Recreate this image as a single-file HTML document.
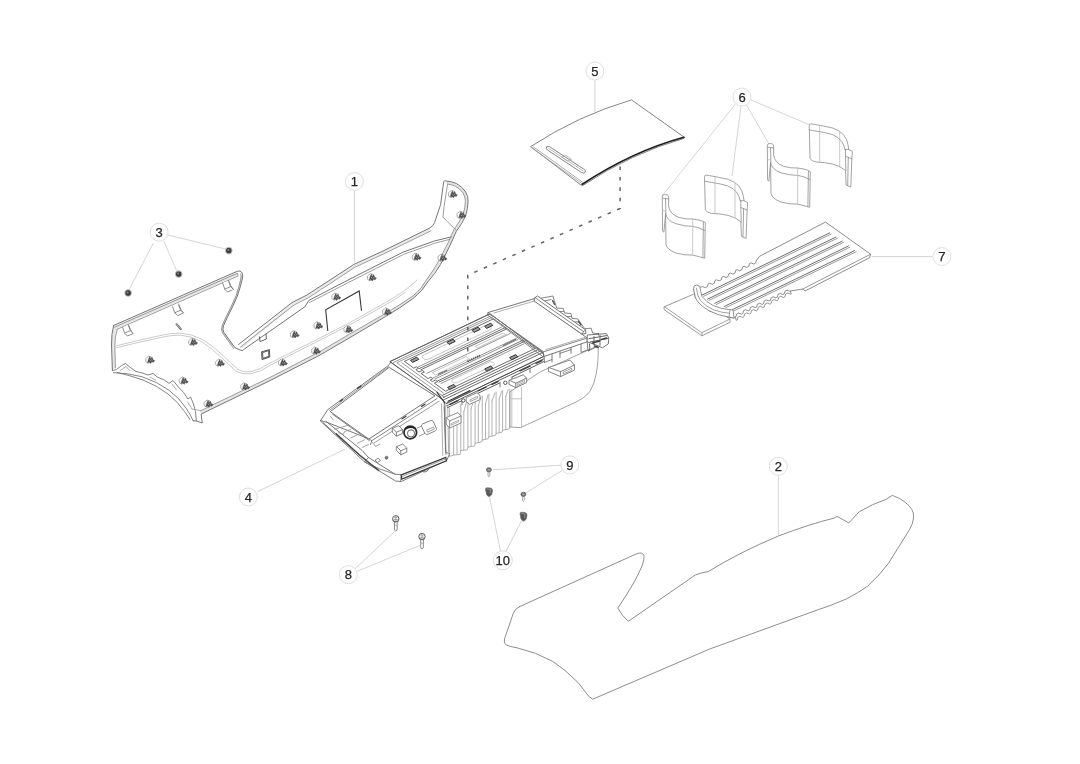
<!DOCTYPE html>
<html><head><meta charset="utf-8"><title>Parts diagram</title>
<style>
html,body{margin:0;padding:0;background:#fff;}
body{width:1080px;height:764px;overflow:hidden;font-family:"Liberation Sans",sans-serif;}
svg{display:block}
.m{fill:none;stroke:#6a6a6a;stroke-width:.9;stroke-linejoin:round;stroke-linecap:round}
.l{fill:none;stroke:#a8a8a8;stroke-width:.8;stroke-linejoin:round;stroke-linecap:round}
.vl{fill:none;stroke:#cfcfcf;stroke-width:.8;stroke-linecap:round}
.d{fill:none;stroke:#333;stroke-width:1;stroke-linejoin:round;stroke-linecap:round}
.w{fill:#fff}
.ld{fill:none;stroke:#cdcdcd;stroke-width:.85}
.cc{fill:#fff;stroke:#dedede;stroke-width:1}
.ct{font-family:"Liberation Sans",sans-serif;font-size:13px;fill:#262626;stroke:#262626;stroke-width:.25;text-anchor:middle}
</style></head><body>
<svg width="1080" height="764" viewBox="0 0 1080 764">
<rect width="1080" height="764" fill="#fff"/>
<filter id="soft" x="0" y="0" width="1080" height="764" filterUnits="userSpaceOnUse"><feGaussianBlur stdDeviation="0.45"/></filter>
<g id="all" filter="url(#soft)">
<rect width="1080" height="764" fill="#fff"/>
<defs>
<g id="clip"><path d="M-4.6,-1.6 L-1.6,-4 L1.4,-3 L1.6,1 L-2,3.2 L-4.4,1.8 Z" fill="#fff" stroke="#8e8e8e" stroke-width=".7"/><path d="M-2,-0.6 L-0.6,-3.6 L0.4,-1.2 L1.8,-2.8 L2.8,-0.2 L4.4,0.4 L3.2,2.2 L1.4,1.6 L0.4,3.4 L-1,2 L-2.8,2.6 Z" fill="#4a4a4a" stroke="#5e5e5e" stroke-width=".5" stroke-linejoin="round"/><path d="M-0.8,-0.6 L0.4,1.2 M1,-0.8 L2,0.8" stroke="#ddd" stroke-width=".5" fill="none"/></g>
</defs>

<!-- LEADERS -->
<g id="leaders" class="ld">
<path d="M354.4,190 L354.4,262.5"/>
<path d="M778.3,475.5 L778.3,535.5"/>
<path d="M167.6,234.9 L226.4,249.3 M163.6,240.7 L176.7,270.8 M153.2,243.4 L129,289.8"/>
<path d="M257.5,491.7 L345,449.2"/>
<path d="M594.9,80 L594.9,111.8"/>
<path d="M735.5,104 L662,196 M741,106 L732,176 M746.5,105 L769.5,145 M751,100 L810,125"/>
<path d="M871.6,256.6 L932.5,256.6"/>
<path d="M355.3,568.6 L394.8,531.3 M357.4,571.2 L420,545.4"/>
<path d="M561,465.2 L492.6,469.8 M562.3,470.4 L525.9,492.8"/>
<path d="M500.5,551.3 L489.6,497.2 M505.9,551.6 L521.5,520.9"/>
</g>


<!-- PART 1 -->
<g id="p1">
<!-- underlay bands -->
<path d="M200.6,412.5 L270.0,379.0 L320.0,353.2 L350.0,335.6 L385.6,314.9 L412.8,297.4 L421.1,289.5 L427.0,281.1 L439.6,262.9 L449.0,244.2 L455.1,230.4 L464.4,215.1 L466.8,201.4 L464.4,192.5 L455.6,184.7 L446.1,182.4" fill="none" stroke="#e4e4e4" stroke-width="2.6" stroke-linejoin="round"/>
<path d="M115.6,327.4 L237.4,273.8 M115.6,327.4 Q113.1,335 113.2,345.5 L113.9,369" fill="none" stroke="#e6e6e6" stroke-width="3.2" stroke-linejoin="round"/>
<path d="M241.6,275 Q240.2,285 236.6,295.8 Q232.4,306.2 226.8,316.9 L222.8,325.8 Q221.6,329.8 223,332.5 L233,346.2" fill="none" stroke="#d8d8d8" stroke-width="1.6"/>
<path d="M241,348 L293,303.8 L307.6,296.4 L354.5,265.8 L382.5,252.8 L430.4,229.4" fill="none" stroke="#ebebeb" stroke-width="2.4"/>
<!-- outer outline -->
<path style="stroke:#757575;stroke-width:1" class="m" d="M113.6,325.5 L236.5,271.6 Q240.6,270 242.2,273 Q243.2,275.6 242.3,279 Q240.5,287 237.3,296.1 Q233,306.5 227.4,317.2 L223.4,326 Q222.4,329.6 223.7,332.2 L233.6,345.8 L234.9,347.7 L242.3,350.8 L243.5,349.6 L304.8,306.8 L309,300.3 L354,277 L402.9,252.2 L434.3,241 L451.6,236.8
 M238.5,344.5 L292,302.6 L307,295 L354.1,264.3 L382,251.5 L429.6,228.1 Q433.5,226 434.6,222.5 L440.6,204.6 L443.7,181.8 L444.5,180.8 Q452,181.5 456.3,183.4 Q462.5,187 465.7,192 Q468.3,196.5 468.1,201.4 Q468,208 465.7,215.6 Q462,224 456.3,231.3 L450,245.4 L440.6,264.3 Q435,274 428,281.6 L421.7,290.4 Q417.5,294.6 412.8,298.7 Q400,308 385.6,316.5 L350,337.5 L320,355 L270,380.6 L201.1,414.1 L202.3,423 L196.5,421 L193.2,420.8
 M113.6,325.5 Q111.3,334 111.5,345 L112.4,370.6"/>
<!-- inner parallel lines -->
<path style="stroke:#858585" class="l" d="M114.3,327.2 L237.2,273.4 M117.2,329.2 L238.2,275.9 L237.4,273.6 M117.2,329.2 Q114.8,336 114.9,346 L115.4,367.5
 M240.8,274 Q241.6,276 240.9,279 Q239,287 236,295.6 Q231.8,306 226.2,316.6 L222.1,325.6 Q220.9,329.8 222.4,332.8 L232.4,346.6 L233.8,348.6
 M200.2,410.9 L270,377.4 L320,351.5 L350,333.8 L385.6,313.4 Q400,305 412.8,296.1 Q417,292.5 420.5,288.6 L426,280.5 Q433,271 438.5,261.5 L448,243 L454,229.5 Q459.5,222 463,214.5 Q465.3,207.5 465.4,201.4 Q465.4,197 463.2,193 Q460,188.5 455,186 Q451,184.4 447.6,184.1
 M447.6,184.1 L444.2,205.5 L442.9,217.1 L456.3,230.5
 M240.5,347 L294,305 L308.3,297.8 L355,267.2 L383,254.2 L431,230.8
 M309.5,302.5 L355,279.2 L403.5,254.4 L434.8,243.2 L450,239.3"/>
<!-- faint contour double line -->
<path style="stroke:#bdbdbd" class="vl" d="M116.3,345.8 Q140,339.8 162.9,335 Q173,333 180.2,333.1 Q192,333.8 202.7,339.6 Q214,346.5 225.7,358 L237.5,369.2 Q243,372.6 250,371.8 Q260,370 270,363 L320,338 L350,322.5 L385.6,302.5 Q396,296.5 404.5,290.5 Q411,285.5 417,280
 M116.3,347.8 Q140,341.8 162.9,337 Q173,335 180,335.1 Q191,335.8 201.5,341.6 Q212.5,348.5 224,360 L236,371.2 Q242.5,374.8 250.5,373.8 Q261,372 271,364.8 L321,339.6 L351,324.2 L386.6,304.2 Q397,298.2 405.5,292.2"/>
<!-- bottom-left arc structure -->
<path style="stroke:#777" class="m" d="M112.4,370.6 L116.5,369.5 Q122,364.5 125.5,363.5 L131,368 L136,371.5 Q142,372.6 148,375 L153,373.5 L158,377.5 Q164,379 169.1,383.3 L173,380.5 L178,386.5 Q184,392 188,399.1 L190.5,397 L193.5,404 Q196,411 196.4,420.8
 M113.5,372.6 Q128,373 141.9,376.7 Q157,381.5 169.1,390.3 Q180,398.5 186,408.1 Q190.5,414.5 193.2,420.8
 M117,372.4 Q130,375.5 143,380 Q157,385.5 168,394 Q178,402 184.5,411.5 Q188,416.5 190,419.6"/>
<path style="stroke:#999" class="l" d="M120,370.5 L126,366.5 L130,370.8 M150,377 L156,380.2 M172,384 L176.5,390 M187.5,402 L192,409 M192,409 L200.6,410.6"/>
<!-- tabs on flap top -->
<g style="stroke:#808080;fill:#fff" class="m">
<path d="M122.6,327.4 L124.6,333.2 L127.4,336 L133,333.6 L130.4,329.6 L128.4,324.8"/><path d="M124.6,333.2 L130.4,330.6 L133,333.6 M130.4,330.6 L128.6,326"/>
<path d="M172.6,306.6 L174.8,312.8 L177.6,315.6 L183.4,313 L180.6,309 L178.6,304"/><path d="M174.8,312.8 L180.6,310.2 L183.4,313 M180.6,310.2 L178.8,305.2"/>
<path d="M222.6,283 L224.8,289.2 L227.6,292 L233.4,289.4 L230.6,285.4 L228.6,280.4"/><path d="M224.8,289.2 L230.6,286.6 L233.4,289.4 M230.6,286.6 L228.8,281.6"/>
</g>
<!-- pin -->
<path d="M176.5,324.2 L180.8,329.2" stroke="#666" stroke-width="2" stroke-linecap="round" fill="none"/>
<path d="M176.5,324.2 L180.8,329.2" stroke="#ccc" stroke-width=".7" stroke-linecap="round" fill="none"/>
<!-- small rects -->
<path style="stroke:#555" class="m" d="M259.5,336.8 L260,341.6 L266.4,339 L266,334.2"/>
<path style="stroke:#444" class="m" d="M261.6,352.2 L262,359.6 L269.8,357 L269.4,350 Z M262.6,353 L262.9,358.4 L268.9,356.3 L268.6,351 Z"/>
<!-- big open rectangle -->
<path d="M327.8,331 L325.7,309.7 L359.2,290.9 L361.5,310.8" fill="none" stroke="#3a3a3a" stroke-width="1.1" stroke-linejoin="miter"/>
<!-- clips -->
<g id="p1clips">
<use href="#clip" x="453" y="194.4"/>
<use href="#clip" x="461.6" y="215.3"/>
<use href="#clip" x="416.8" y="257.2"/>
<use href="#clip" x="442.6" y="258"/>
<use href="#clip" x="372" y="277.6"/>
<use href="#clip" x="336.4" y="297"/>
<use href="#clip" x="387.2" y="312"/>
<use href="#clip" x="318.5" y="325.8"/>
<use href="#clip" x="348.5" y="329.6"/>
<use href="#clip" x="294.9" y="334.6"/>
<use href="#clip" x="316.2" y="351"/>
<use href="#clip" x="283" y="362.8"/>
<use href="#clip" x="220.2" y="363.2"/>
<use href="#clip" x="245.3" y="386.8"/>
<use href="#clip" x="208.6" y="404"/>
<use href="#clip" x="193.2" y="342.3"/>
<use href="#clip" x="150.3" y="360.1"/>
<use href="#clip" x="183.8" y="381"/>
</g>
</g>


<!-- PART 4 -->
<g id="p4">
<!-- body side (rear) -->
<path style="stroke:#8a8a8a;fill:#fff" class="l" d="M598.2,346 Q598.5,362 596.4,373 Q594.5,384 590,391.3 Q584,399 571.6,404.1 L527.6,424.3 L520.3,427.6 L509.8,427 L509.8,392 L540,372 Z"/>
<path style="stroke:#b0b0b0" class="l" d="M521.6,387 L521.6,427.6 M511.8,398.8 L521.6,398.8 M511.8,389.6 L511.8,427"/>
<!-- ribs -->
<g style="stroke:#a0a0a0" class="l">
<path d="M445.7,405 L445.7,453.7 L449.6,456.4 L453.6,455.1 L460.1,454.4 L460.8,450.5 L467.3,449.8 L467.9,447.2 L474.5,445.9 L475.1,443.3 L481.7,441.9 L482.3,440 L488.2,438.7 L488.9,436.7 L495.4,435.4 L496.1,433.5 L502,432.2 L502.6,430.2 L509.2,428.9 L509.8,426.9"/>
<path d="M449.6,408 L449.6,456 M453.6,420 L453.6,455 M457,420 L457,454.6
 M460.8,404 L460.8,450.5 M463.8,412 L463.8,450 M467.9,401 L467.9,447.2 M471,409 L471,446.5 M475.1,398.5 L475.1,443.3 M478.3,406 L478.3,442.6 M482.3,396 L482.3,440 M485.5,403.5 L485.5,439.3 M488.9,394 L488.9,436.7 M492,401 L492,436 M496.1,392 L496.1,433.5 M499.2,399 L499.2,432.8 M502.6,390.5 L502.6,430.2 M505.8,396.5 L505.8,429.6 M509.8,389 L509.8,426.9"/>
<path d="M463.8,412 L466.5,402 M471,409 L473.8,399.5 M478.3,406 L481,397 M485.5,403.5 L488,395 M492,401 L494.8,393 M499.2,399 L501.6,391.5 M505.8,396.5 L508.2,389.5"/>
</g>
<!-- front face -->
<path style="stroke:#6e6e6e;fill:#fff" class="m" d="M320.5,420.6 L327.8,409.6 L388.3,365.6 L391,362 L437,392 L444.2,402 L445.6,452.5 L449.7,453.5 L446.9,460 L401.1,481.6 L395.6,481 L364.5,461.8 Z"/>
<path style="stroke:#777" class="m" d="M444.2,406.8 L446,454.5 M401.1,474.6 L400.6,481.6 M364.5,461.8 Q380,470 395,474.2 L401.1,474.6"/>
<path style="stroke:#999" class="l" d="M447.8,406 L448.6,452 M441.5,404 L442.8,455.5"/>
<!-- dark lower rect -->
<path d="M401.3,474.8 L445.8,457.4 L446.4,460.8 L401.8,479.2 Z" fill="#fff" stroke="#3a3a3a" stroke-width="1.25"/>
<path d="M402.5,476.2 L445,459.2" style="stroke:#888" class="l"/>
<path d="M422,471.2 Q425,473.6 428.5,469.8" style="stroke:#555" class="m"/>
<!-- front slope lines -->
<path style="stroke:#6a6a6a" class="m" d="M320.5,420.6 L327.5,422.5 L369.1,438.9 M326.2,421.5 L362.1,450.4 L368.5,457.5 L395,474.2 M364.5,461.8 L368.5,457.5 M323,422.6 L365.2,459.6"/>
<path style="stroke:#4a4a4a;stroke-width:1.5" class="d" d="M336.2,433.9 L360,455.5 L378.6,470.4"/>
<path style="stroke:#8a8a8a" class="l" d="M334.4,429.2 L349.2,425 M338.6,432.7 L343.3,434.5 L344.5,431.6 L350.5,429.6 M350.9,438 L358,434.5 M357.4,443.3 L364.5,439.8 M362.5,447.4 L368.4,444.4 M330.5,416.5 L333,419.5 M372,442 L375.5,446.5 L380,444"/>
<!-- lid -->
<path style="stroke:#666;fill:#fff" class="m" d="M330.6,411.4 L389.2,367.4 L435,395.8 L369.1,438.9 Z"/>
<path style="stroke:#777" class="m" d="M371.8,440.7 L436.9,398.6 M332.5,414.2 L369.5,440.8 M369.1,438.9 L371.8,440.7 L370.5,444.5"/>
<path style="stroke:#888" class="l" d="M374,443 L439,401.2 M329.2,410.6 L388.8,366.5"/>
<path style="stroke:#444;stroke-width:1.3" class="d" d="M357.5,388.4 L361,385.9 M340,401.3 L342.5,399.5 M402,418.8 L406,416.2 M421.5,406.4 L425,404.2"/>
<!-- knob + boxes on front -->
<circle cx="410.3" cy="432.5" r="6.3" fill="#fff" stroke="#2e2e2e" stroke-width="1.8"/>
<circle cx="411" cy="433.4" r="3.6" fill="#fff" stroke="#555" stroke-width=".9"/>
<path d="M405,429 Q410,425.5 415.5,428.5" fill="none" stroke="#222" stroke-width="1.6"/>
<path style="stroke:#777;fill:#fff" class="m" d="M421.5,426.2 Q421,424.6 422.8,423.8 L430.5,420.6 Q432.4,420 433.4,421.6 L436.4,428.4 Q436.9,430 435.4,430.8 L427.6,434.4 Q425.8,435 424.9,433.4 Z"/>
<path style="stroke:#888" class="l" d="M427,430 L433.5,427 L434.3,429 L427.9,432 Z M421.5,426.2 L417,428.2 M424.9,433.4 L419.5,436"/>
<path style="stroke:#777;fill:#fff" class="m" d="M392.6,428.2 L398.8,425.6 L402.4,429.6 L402.4,433.6 L396.4,436.2 L392.6,432.4 Z M396.4,436.2 L396.4,432.2 L402.4,429.6 M396.4,432.2 L392.6,428.2"/>
<path style="stroke:#777;fill:#fff" class="m" d="M396.6,446.6 L402.6,444 L406.8,448.2 L406.8,452 L400.8,454.8 L396.6,450.6 Z M400.8,454.8 L400.8,450.8 L406.8,448.2 M400.8,450.8 L396.6,446.6"/>
<circle cx="386.5" cy="457.7" r="1.5" fill="#777" stroke="#555" stroke-width=".6"/>
<path style="stroke:#777" class="m" d="M375.5,459.8 L378.6,458.2 L380.4,460.6 L377.4,462.4 Z"/>
<!-- clip box on rib side -->
<path style="stroke:#808080;fill:#fff" class="m" d="M446.5,417.5 L458,412.5 L461,416 L461,423 L449.6,428 L446.5,424.5 Z M449.6,428 L449.6,421 L461,416 M449.6,421 L446.5,417.5"/>
<path style="stroke:#999" class="l" d="M451.5,423.4 L458.6,420.2 L458.6,421.8 L451.5,425 Z"/>
<!-- TRAY -->
<g id="tray">
<path style="stroke:#666;fill:#fff" class="m" d="M390.1,361.5 L490,313.8 L543.1,352.3 L543.6,356.5 L446,403.6 L443.2,400 Z"/>
<g transform="matrix(0.999 -0.477 0.531 0.385 390.1 361.5)" fill="none" stroke-linejoin="round">
<path vector-effect="non-scaling-stroke" stroke="#5c5c5c" stroke-width=".9" d="M0,0 L100,0 L100,100 L0,100 Z"/>
<path vector-effect="non-scaling-stroke" stroke="#808080" stroke-width=".8" d="M1,4 L100,4 M3,7 L100,7 M3,7 L3,97 M6,10 L6,90"/>
<path vector-effect="non-scaling-stroke" stroke="#5e5e5e" stroke-width=".9" d="M8.75,10.5 L98,10.5 M8.75,10.5 L8.75,28 L11.5,28 L11.5,32 L8.75,32 L8.75,38 L12,38 L12,42 L8.75,42 L8.75,55 L11.5,55 L11.5,59 L8.75,59 L8.75,63 L12,63 L12,67 L8.75,67 L8.75,88 M98,10.5 L98,88
 M11.5,33 L98,33 M11.5,36 L98,36 M12,66 L98,66 M12,69 L98,69 M8.75,88 L100,88 M3,92 L100,92 M2,96 L100,96"/>
<path vector-effect="non-scaling-stroke" stroke="#7c7c7c" stroke-width=".8" d="M12,46 L96,46 M12,58 L96,58 M12,61 L96,61 M12,29.5 L96,29.5 M12,72.5 L96,72.5"/>
<path vector-effect="non-scaling-stroke" stroke="#b8b8b8" stroke-width=".8" d="M24,15 L88,15 Q91,20 88,25 L24,25 Q21,20 24,15 Z M22,75 L60,75 Q63,79 60,83 L22,83 Q19,79 22,75 Z M16,49 L50,49 L50,55 L16,55 Z M64,40 L92,40 L92,44 L64,44 Z"/>
</g>
<!-- tray clips -->
<g fill="#9a9a9a" stroke="#333" stroke-width="1" stroke-linejoin="round">
<path d="M410.6,360.2 L416.8,357.2 L418.8,359.4 L412.6,362.4 Z"/>
<path d="M447,342.2 L453.2,339.2 L455.2,341.4 L449,344.4 Z"/>
<path d="M472,330.2 L478.2,327.2 L480.2,329.4 L474,332.4 Z"/>
<path d="M484.6,326.2 L490.8,323.2 L492.8,325.4 L486.6,328.4 Z"/>
<path d="M447.6,387.4 L453.8,384.4 L455.8,386.6 L449.6,389.6 Z"/>
<path d="M484.6,369 L490.8,366 L492.8,368.2 L486.6,371.2 Z"/>
<path d="M509.6,357.6 L515.8,354.6 L517.8,356.8 L511.6,359.8 Z"/>
</g>
<path d="M467.5,361.4 L480.5,355.2" stroke="#444" stroke-width="1.8" stroke-dasharray="1.2,.9" fill="none"/>
<path d="M503,345.6 L516,339.4 M438,374.4 L447,370.2" stroke="#777" stroke-width="1.2" fill="none"/>
<!-- tray front-right frame under-edge -->
<path style="stroke:#4a4a4a" class="m" d="M446,403.6 L543.6,356.5 M446.8,405.6 L543.8,358.8 M447.5,407.6 L462,400.6 M474,395.2 L500,382.8 M512,377 L543.8,361.6"/>
<path style="stroke:#3a3a3a;stroke-width:1.3" class="d" d="M450,404.4 L458,400.6 M478,391 L486,387.2 M492,384.4 L498,381.6 M520,371 L530,366.2 M536,363.4 L542,360.6"/>
<path style="stroke:#666" class="m" d="M462,400.6 L462,404.5 M474,395.2 L474,399 M500,382.8 L500,387 M512,377 L512,381 M530,368.4 L530,372.5"/>
<path style="stroke:#3a3a3a;stroke-width:1.2" class="d" d="M448,401.2 L470,390.6 M437,392.4 L444.5,402.5"/>
</g>
<!-- side clips under tray -->
<g style="stroke:#777;fill:#fff" class="m">
<path d="M466.5,397.5 L477,392.6 L480,395.4 L480,399.6 L469.6,404.4 L466.5,401.6 Z"/><path d="M470.5,399.6 L477.5,396.4 L477.5,398.2 L470.5,401.4 Z" stroke="#999"/>
<path d="M509.3,380.3 L523.1,374.8 L526.7,378.1 L526.7,382.6 L515.7,387.6 L509.3,384.5 Z M515.7,387.6 L515.7,383.2 L526.7,378.1 M515.7,383.2 L509.3,380.3"/><path d="M517.6,383.6 L524.6,380.4 L524.6,382.2 L517.6,385.4 Z" stroke="#999"/>
<path d="M548.7,367.5 L569.8,360 L574.4,365 L574.4,370.2 L560.6,376.6 L548.7,371.5 Z M560.6,376.6 L560.6,371.6 L574.4,365 M560.6,371.6 L548.7,367.5"/><path d="M563.6,371.8 L571.6,368.2 L571.6,370.2 L563.6,373.8 Z" stroke="#999"/>
</g>
<circle cx="463.3" cy="400.5" r="1.7" fill="#fff" stroke="#444" stroke-width=".9"/>
<circle cx="505.3" cy="382.8" r="1.7" fill="#fff" stroke="#444" stroke-width=".9"/>
<!-- under rear-lid details -->
<path style="stroke:#707070" class="m" d="M544.1,356.5 L544.5,362.5 M544.5,362.5 L552,359.5 M552,354 L552,362 M560,350.8 L560,357.5 M571,347.2 L571,353.4 M581,343.6 L581,352.4 L587.5,350 M587.2,341.8 L588,351 L597.3,346.5 M560,353.4 L571,349.6"/>
<!-- REAR LID -->
<path style="stroke:#666;fill:#fff" class="m" d="M488.2,312.5 L534.1,298.7 L587.2,338.1 L587.2,341.8 L544.1,356.5 L543.2,351.9 Z"/>
<path style="stroke:#777" class="m" d="M543.2,351.9 L587.2,338.1 M490.6,314 L543.6,354.2 M488.2,312.5 L487,314.6 L541.8,355.8"/>
<path style="stroke:#999" class="l" d="M494,313 L535,300.8 M546,349.5 L585,337.4"/>
<!-- teeth behind bar -->
<path style="stroke:#777" class="m" d="M541.1,298.2 L552.9,296 L554.3,300.7 L556.8,308.1 L563.2,308.4 L564.7,313 L571,313.5 L572,318.4 L577.9,318.9 L580.8,323.3 L584.8,328.7 L591.2,328.2 L592.6,333.1 L598.5,333.6 M544,301 L551,299.6 M558,311.5 L563.6,311.4 M566.5,316.4 L571.4,316.6 M574,321.8 L579,322"/>
<path style="stroke:#555;stroke-width:1.4" class="d" d="M552.6,300.6 L554.6,304.4 M578.4,321.2 L581,325"/>
<!-- rear bar -->
<path style="stroke:#666;fill:#fff" class="m" d="M534.2,300.7 L534.4,298 L537.5,296 L585.6,329.8 L586,333.5 L582.3,334.1 Z"/>
<path style="stroke:#777" class="m" d="M534.4,298 L535.2,297.8 L583.5,331.6 L585.6,329.8 M583.5,331.6 L582.3,334.1"/>
<!-- right end block -->
<path style="stroke:#666;fill:#fff" class="m" d="M587.7,335 L606.4,333.6 L608.8,338 L608.3,343.9 L602.4,347.8 L597.3,345.5 L587.2,341.8 L587.2,338.1 Z"/>
<path style="stroke:#555" class="m" d="M589,338.6 L606.5,335.6 M590,342 L607.6,338.6 M594,336.6 L594,344.4 M600,335.4 L600,345.4 M589.5,344 Q590.5,348 589,351 M598.5,333.6 L598.5,335"/>
<path style="stroke:#3a3a3a;stroke-width:1.5" class="d" d="M592.6,343 L599.5,341 M601.5,339.4 L606.6,338 M594.5,346 L598,347.4"/>
</g>


<!-- DASHED GUIDE -->
<path d="M620.1,166.5 L620.1,208.4 L467.8,275.2 L467.8,353.5" fill="none" stroke="#636363" stroke-width="1.5" stroke-dasharray="3.6,6.8"/>

<!-- PART 5 -->
<g id="p5">
<path style="stroke:#777;fill:#fff" class="m" d="M531,146.4 Q577.8,115.7 631.5,99.9 L683.9,137 L684,138.4 Q632,153 582.6,185.6 L580.5,184.6 Z"/>
<path style="stroke:#999" class="l" d="M531,146.4 L531.6,147.8 L581.4,183.2 M533.6,147 L582.6,182.2"/>
<path d="M582.3,184.3 Q632,151.5 683.9,137.3" fill="none" stroke="#1e1e1e" stroke-width="1.7" stroke-linecap="round"/>
<path style="stroke:#777" class="m" d="M546.6,147 Q545.4,148.6 547.4,150 L581.6,172.6 Q584.4,173.8 585.4,172 Q586,170.4 583.6,169 L549.4,146.6 Q547.6,145.8 546.6,147 Z"/>
<path style="stroke:#aaa" class="l" d="M549,148.6 L583,170.8 M562,157 L566,155.6 L571.5,159.2 L567.5,160.8 Z"/>
</g>

<!-- PART 6 -->
<defs>
<g id="c6a">
<path style="stroke:#8c8c8c;fill:#fff" class="l" d="M662.3,196.4 Q662.3,194.4 664.6,194.5 L667.2,194.9 Q668.8,195.4 668.7,197.5 L668.6,205.9 Q669.5,214 679.1,217.5 Q686,219.4 692.7,219 L699,220.1 Q703,221 705.3,222.7 L704.7,258.3 L699,256.7 L692.7,255.1 Q684,255.4 675.9,253 Q667,249.5 666,244.7 L665.6,214 L663.9,232.1 L662.9,231.4 Z"/>
<path style="stroke:#8c8c8c" class="l" d="M665.5,213.3 Q666.5,220.5 675.9,223.7 Q684,226.4 692.7,226.4 L699,227.9 L704.7,230.5 M665.5,198.6 L665.9,213.3 M662.5,198.2 L665.5,198.6 L668.6,199 M703.4,222.3 L702.9,257.6"/>
<path style="stroke:#bbb" class="vl" d="M692.7,219 L692.7,255.1 M662.6,210.5 L665.6,211"/>
</g>
<g id="c6b">
<path style="stroke:#8c8c8c;fill:#fff" class="l" d="M704.5,176.8 Q704.4,175 706.4,175.1 L709.4,175.6 Q718,177 728.3,179.4 Q735,181.6 738.8,186 Q742.6,190.5 743.4,196.5 L744,200.7 L747.7,202.8 L747.1,210.1 L746.1,238.4 L741.4,236.3 L740.9,221.8 Q736,217.6 728.3,215.4 Q720,213.6 711.5,213.3 Q706.5,212.6 705.5,210.1 Z"/>
<path style="stroke:#8c8c8c" class="l" d="M704.6,181.2 Q708,182 711.5,182.4 Q720,183.6 727.6,185.8 Q734,188.4 737.2,193 Q739.6,197 740.4,201.4 M740.8,200.7 L740.8,207.5 L747.1,210.1 M740.8,200.7 L744,200.7 M740.8,207.5 L741.2,222 M743.6,208.8 L743,237"/>
<path style="stroke:#bbb" class="vl" d="M715,177.2 L715,213.5 M735,183.5 L735,217"/>
</g>
</defs>
<g id="p6">
<use href="#c6b" transform="translate(104.7,-51.3)"/>
<use href="#c6a" transform="translate(105,-51)"/>
<use href="#c6b"/>
<use href="#c6a"/>
</g>

<!-- PART 7 -->
<g id="p7">
<!-- base plate -->
<path style="stroke:#808080;fill:#fff" class="l" d="M664.4,306.7 L693.5,294.2 L730,319 L730,322.3 L701.9,335.8 L664.4,309.8 Z"/>
<path style="stroke:#8a8a8a" class="l" d="M664.4,306.7 L701.9,332.7 L730,319 M701.9,332.7 L701.9,335.8"/>
<!-- main plate -->
<path style="stroke:#707070;fill:#fff" class="l" d="M825.8,222.3 L870.6,254.2 L869.6,257.7 L805,291 L802.9,289 L790.4,291 L789.7,291.3 L787.0,290.2 L785.0,291.1 L784.2,293.9 L782.8,294.6 L780.1,293.4 L778.1,294.4 L777.3,297.2 L775.9,297.9 L773.2,296.7 L771.2,297.7 L770.4,300.5 L769.0,301.1 L766.3,299.9 L764.3,300.9 L763.5,303.7 L762.1,304.4 L759.4,303.2 L757.4,304.2 L756.6,307.0 L755.2,307.6 L752.5,306.5 L750.5,307.4 L749.7,310.2 L748.3,310.9 L745.6,309.7 L743.6,310.7 L742.8,313.5 L741.4,314.2 L738.7,313.0 L736.7,314.0 L735.9,316.8 L735.2,317.1 L734.2,318.1 L729,317.1 L709.2,310.8 L695.6,298.3 L693.5,287.9 L701.9,286.9 L702.6,286.6 L705.3,287.7 L707.4,286.7 L708.1,283.9 L709.5,283.2 L712.2,284.3 L714.3,283.3 L715.0,280.5 L716.4,279.8 L719.1,280.9 L721.2,279.9 L721.9,277.1 L723.3,276.4 L726.0,277.5 L728.1,276.5 L728.8,273.7 L730.2,273.0 L732.9,274.1 L735.0,273.1 L735.7,270.3 L737.1,269.6 L739.8,270.8 L741.9,269.7 L742.6,266.9 L744.0,266.2 L746.7,267.4 L748.8,266.3 L749.5,263.5 L750.9,262.8 L753.6,264.0 L755.7,263.0 L756.4,260.1 L757.1,259.8 L759.2,256.7 Z"/>
<path style="stroke:#7c7c7c" class="l" d="M870.6,254.2 L805,287.9 L802.9,289 M790.4,291 L791,293.8 M735.2,317.1 L736.4,320.4 L737.1,320.1 L737.8,317.3 L739.9,316.3 L742.5,317.4 L743.9,316.7 L744.7,313.9 L746.7,312.9 L749.4,314.1 L750.7,313.4 L751.5,310.6 L753.5,309.6 L756.2,310.8 L757.6,310.1 L758.3,307.3 L760.3,306.3 L763.0,307.4 L764.4,306.8 L765.1,304.0 L767.2,303.0 L769.8,304.1 L771.2,303.4 L772.0,300.6 L774.0,299.6 L776.7,300.8 L778.0,300.1 L778.8,297.3 L780.8,296.3 L783.5,297.5 L784.9,296.8 L785.6,294.0 L787.6,293.0 L790.3,294.1 L791.0,293.8"/>
<!-- ribs -->
<g fill="none" stroke="#5e5e5e" stroke-width=".9">
<path d="M701.9,295.2 L830,232.7 M707.1,299.4 L836.3,236.9 M714.4,303.5 L842.5,241 M723.8,306.7 L848.8,245.8 M732.1,309.8 L855,250.4"/>
<path stroke="#8e8e8e" d="M703.4,296.4 L831.4,233.9 M708.6,300.6 L837.7,238.1 M715.9,304.7 L843.9,242.2 M725.3,307.9 L850.2,247 M733.6,311 L856.4,251.6"/>
</g>
<!-- handle -->
<path style="stroke:#777;fill:#fff" class="l" d="M693.5,288.5 Q693.2,285.2 696.6,285 Q699.8,285.2 699.9,287.6 L701.9,296.3 Q706,302 713.3,305.6 Q721,309 730,309.8 L733,309.8 L734.2,318.1 L729,317.1 Q718,315.6 709.2,310.8 Q699,305 695.6,298.3 Z"/>
<path style="stroke:#8a8a8a" class="l" d="M696.4,288 Q697,296 700.5,300.5 Q706,307 714,310 Q722,312.8 729.6,313.2 M730,309.8 L729,317.1"/>
</g>

<!-- PART 2 -->
<g id="p2" style="stroke:#8e8e8e;stroke-width:1" class="m">
<path d="M519.4,606.7 L636.5,553.8 Q642.5,551.6 644,555.5 Q644.6,559 642,566 Q635,583 617.8,608.1 Q622,616 628.3,621.3 L695.3,575 Q700,573 708.4,571.5 Q740,552 778.6,535.9 Q810,524 834.1,518.1 L837.2,516.4 L848.8,522.9 L859.2,511.8 Q872,504 886.5,499.2 L892.3,495.3 Q900,498 905.3,502.4 Q914,509 913.7,517 Q913,524 909.5,529.6 L888.6,563.1 Q880,575 867.6,586.2 Q858,593 846.7,598.8 Q830,606 817.3,610 L710,648.9 L592.7,699.2 L588.5,696.1 Q584,690 578,682.5 Q566,670 552.9,661.5 Q536,652 517.2,647.9 Q509,646.5 505.6,644.6 Q503.6,642.4 504.6,638.6 L513.4,613 Q515,608.8 519.4,606.7 Z"/>
</g>


<!-- FASTENERS -->
<defs>
<g id="nut3"><circle r="2.9" fill="#3c3c3c"/><circle r="3.4" fill="none" stroke="#9a9a9a" stroke-width=".7"/><circle cx="-.5" cy="-.6" r="1" fill="#888"/></g>
<g id="bolt8"><path d="M-1.3,2.6 L-1.3,10.2 Q-1.2,12 0,12.2 Q1.3,12 1.4,10.2 L1.4,2.6 Z" fill="#fff" stroke="#707070" stroke-width=".8"/><path d="M-1.3,6.2 L1.4,6.8" stroke="#888" stroke-width=".6"/><circle r="3.2" fill="#fff" stroke="#5a5a5a" stroke-width="1"/><path d="M-2.2,.6 L2.2,.6 M-1.6,-1.4 L1.6,-1.4 M0,-3 L0,3" stroke="#8a8a8a" stroke-width=".7"/><path d="M-3,1.8 Q0,3.8 3,1.8" stroke="#666" stroke-width=".8" fill="none"/></g>
<g id="screw9"><path d="M-.9,1.8 L-.9,6.2 L0,7 L.9,6.2 L.9,1.8 Z" fill="#fff" stroke="#888" stroke-width=".7"/><ellipse rx="2.5" ry="2.1" fill="#7a7a7a" stroke="#555" stroke-width=".7"/><path d="M-1.2,-.4 L1.2,.4" stroke="#ddd" stroke-width=".6"/></g>
<g id="nut10"><path d="M-3.4,-2.8 Q-3.6,-4 -2,-4.2 L1.4,-4 Q3.6,-3.6 3.6,-1.4 L3,2 Q2,4.4 .2,4.6 Q-1.4,4.4 -2.4,2.4 Z" fill="#585858" stroke="#707070" stroke-width=".7"/><path d="M-2.2,-3 L1.6,-2.6 L1.2,1.4" stroke="#a8a8a8" stroke-width=".7" fill="none"/></g>
</defs>
<g id="fasteners">
<use href="#nut3" x="228.8" y="250.6"/><use href="#nut3" x="178.7" y="274.1"/><use href="#nut3" x="128.1" y="293"/>
<use href="#bolt8" x="395.8" y="518.8"/><use href="#bolt8" x="422" y="536.6"/>
<use href="#screw9" x="488.9" y="469.8"/><use href="#screw9" x="523.4" y="494.3"/>
<use href="#nut10" x="488.9" y="492"/><use href="#nut10" x="523.4" y="516.5"/>
</g>

<!-- CALLOUTS -->
<g id="callouts" style="filter:grayscale(1)">
<circle class="cc" cx="354.4" cy="181.5" r="9"/><text class="ct" x="354.4" y="186.2">1</text>
<circle class="cc" cx="778.3" cy="466.3" r="9"/><text class="ct" x="778.3" y="471">2</text>
<circle class="cc" cx="159.1" cy="232.2" r="9"/><text class="ct" x="159.1" y="236.9">3</text>
<circle class="cc" cx="248.3" cy="497" r="9"/><text class="ct" x="248.3" y="501.7">4</text>
<circle class="cc" cx="594.9" cy="71" r="9"/><text class="ct" x="594.9" y="75.7">5</text>
<circle class="cc" cx="742" cy="97" r="9"/><text class="ct" x="742" y="101.7">6</text>
<circle class="cc" cx="941.9" cy="256.6" r="9"/><text class="ct" x="941.9" y="261.3">7</text>
<circle class="cc" cx="348.3" cy="574.7" r="9"/><text class="ct" x="348.3" y="579.4">8</text>
<circle class="cc" cx="569.8" cy="464.9" r="9"/><text class="ct" x="569.8" y="469.6">9</text>
<circle class="cc" cx="502.8" cy="560.3" r="9.5"/><text class="ct" x="502.8" y="565">10</text>
</g>
</g>
</svg>
</body></html>
